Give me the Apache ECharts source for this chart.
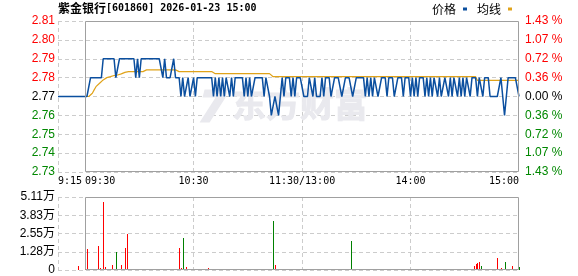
<!DOCTYPE html>
<html><head><meta charset="utf-8">
<script src="https://cdn.jsdelivr.net/npm/echarts@6/dist/echarts.min.js"></script>
<style>html,body{margin:0;padding:0;background:#fff;}#c{width:578px;height:276px;}</style>
</head><body><div id="c"></div>
<script>
// ---------- data ----------
const titleName = '紫金银行';
const titleRest = '[601860] 2026-01-23 15:00';
const legendNames = ['价格', '均线'];
const watermarkText = '东方财富';

const prevClose = 2.77;
const priceMin = 2.73, priceMax = 2.81, priceStep = 0.01;
// right-axis labels, bottom to top
const pctLabels = ['1.43 %','1.07 %','0.72 %','0.36 %','0.00 %','0.36 %','0.72 %','1.07 %','1.43 %'];
const volMax = 51100, volStep = 12775;
const volLabels = ['0','1.28万','2.55万','3.83万','5.11万'];

// x tick positions (category index) and texts
const xTickIdx = [0, 15, 75, 135, 195, 255];
const xTickText = ['9:15','09:30','10:30','11:30/13:00','14:00','15:00'];

// pre-market 9:15-9:29
const prePrice = [2.77,2.77,2.77,2.77,2.77,2.77,2.77,2.77,2.77,2.77,2.77,2.77,2.77,2.77,2.77];
const preAvg   = [null,null,null,null,null,null,null,null,null,null,null,null,null,null,null];
const preVol   = [0,0,0,0,0,0,0,0,0,0,0,3000,0,0,0];

// trading minutes 09:30 .. 11:30, 13:01 .. 15:00 (241 points)
const tradePrice = [
2.77,2.77,2.77,2.78,2.78,2.78,2.78,2.78,2.78,2.78,
2.79,2.79,2.79,2.79,2.79,2.79,2.79,2.78,2.78,2.79,
2.79,2.79,2.79,2.79,2.79,2.79,2.79,2.79,2.78,2.79,
2.78,2.79,2.79,2.79,2.79,2.79,2.79,2.79,2.79,2.79,
2.79,2.79,2.79,2.78,2.79,2.78,2.78,2.78,2.78,2.79,
2.78,2.78,2.78,2.77,2.78,2.77,2.77,2.78,2.77,2.77,
2.78,2.77,2.78,2.78,2.78,2.78,2.78,2.78,2.78,2.78,
2.78,2.77,2.78,2.77,2.78,2.77,2.78,2.77,2.78,2.78,
2.77,2.78,2.77,2.78,2.78,2.78,2.78,2.78,2.77,2.78,
2.77,2.78,2.77,2.77,2.78,2.78,2.78,2.78,2.78,2.77,
2.78,2.78,2.77,2.76,2.76,2.77,2.77,2.76,2.77,2.78,
2.77,2.78,2.78,2.78,2.77,2.78,2.77,2.78,2.78,2.78,
2.78,2.77,2.77,2.77,2.78,2.78,2.77,2.78,2.77,2.77,
2.77,2.78,2.77,2.78,2.78,2.78,2.77,2.77,2.78,2.78,
2.78,2.78,2.77,2.77,2.78,2.78,2.78,2.78,2.77,2.77,
2.78,2.78,2.78,2.78,2.78,2.77,2.78,2.77,2.78,2.77,
2.78,2.78,2.77,2.77,2.78,2.78,2.78,2.77,2.78,2.78,
2.78,2.77,2.77,2.78,2.78,2.78,2.77,2.78,2.78,2.78,
2.77,2.78,2.77,2.78,2.77,2.78,2.78,2.78,2.77,2.78,
2.77,2.78,2.77,2.78,2.78,2.77,2.78,2.77,2.77,2.78,
2.78,2.77,2.78,2.77,2.78,2.78,2.77,2.78,2.77,2.78,
2.77,2.78,2.78,2.77,2.78,2.78,2.78,2.77,2.78,2.78,
2.77,2.78,2.78,2.78,2.77,2.77,2.77,2.77,2.77,2.77,
2.78,2.77,2.76,2.77,2.78,2.78,2.78,2.78,2.78,2.78,
2.77
];
const tradeAvg = [
2.7700,2.7700,2.7700,2.7700,2.7717,2.7735,2.7752,2.7752,2.7770,2.7780,
2.7788,2.7795,2.7800,2.7803,2.7805,2.7808,2.7811,2.7811,2.7814,2.7816,
2.7820,2.7823,2.7828,2.7832,2.7832,2.7832,2.7832,2.7832,2.7832,2.7832,
2.7832,2.7832,2.7832,2.7832,2.7841,2.7841,2.7841,2.7841,2.7841,2.7841,
2.7841,2.7841,2.7841,2.7841,2.7841,2.7841,2.7841,2.7841,2.7841,2.7841,
2.7841,2.7832,2.7832,2.7832,2.7832,2.7832,2.7832,2.7832,2.7832,2.7832,
2.7832,2.7832,2.7832,2.7832,2.7832,2.7832,2.7832,2.7832,2.7832,2.7832,
2.7832,2.7832,2.7821,2.7821,2.7821,2.7821,2.7821,2.7821,2.7821,2.7821,
2.7821,2.7821,2.7821,2.7821,2.7821,2.7821,2.7821,2.7821,2.7821,2.7821,
2.7821,2.7821,2.7821,2.7821,2.7821,2.7821,2.7821,2.7821,2.7821,2.7821,
2.7821,2.7821,2.7821,2.7821,2.7805,2.7805,2.7805,2.7805,2.7805,2.7805,
2.7805,2.7805,2.7805,2.7805,2.7805,2.7805,2.7805,2.7805,2.7805,2.7805,
2.7805,2.7805,2.7805,2.7805,2.7805,2.7805,2.7805,2.7805,2.7805,2.7805,
2.7805,2.7805,2.7805,2.7805,2.7805,2.7805,2.7805,2.7805,2.7805,2.7805,
2.7805,2.7805,2.7805,2.7805,2.7805,2.7805,2.7805,2.7805,2.7805,2.7805,
2.7805,2.7805,2.7805,2.7805,2.7805,2.7805,2.7805,2.7805,2.7805,2.7805,
2.7805,2.7805,2.7805,2.7805,2.7805,2.7805,2.7805,2.7805,2.7805,2.7805,
2.7805,2.7805,2.7805,2.7805,2.7805,2.7805,2.7805,2.7805,2.7805,2.7805,
2.7805,2.7805,2.7805,2.7805,2.7805,2.7805,2.7805,2.7805,2.7805,2.7805,
2.7805,2.7805,2.7805,2.7805,2.7805,2.7805,2.7805,2.7805,2.7805,2.7805,
2.7805,2.7805,2.7805,2.7805,2.7805,2.7805,2.7805,2.7805,2.7805,2.7805,
2.7805,2.7805,2.7805,2.7805,2.7805,2.7805,2.7805,2.7785,2.7785,2.7785,
2.7785,2.7785,2.7785,2.7785,2.7785,2.7785,2.7785,2.7785,2.7785,2.7785,
2.7785,2.7785,2.7785,2.7785,2.7785,2.7785,2.7785,2.7785,2.7785,2.7785,
2.7785
];
const tradeVol = [
600,14600,700,900,1000,600,800,16700,1200,700,
47400,2000,800,600,900,3500,700,12300,800,600,
3500,900,15600,25100,800,700,600,900,500,800,
700,600,800,900,700,500,800,600,700,900,
600,800,700,500,900,700,600,800,700,600,
800,900,15500,1500,22300,900,2300,700,600,800,
500,700,900,600,800,700,600,500,1200,800,
700,600,900,700,500,800,600,700,900,600,
800,700,500,600,900,700,800,600,700,500,
800,900,600,700,800,500,700,600,900,700,
800,1000,700,800,34200,3500,700,600,800,900,
600,1000,700,500,800,600,900,700,600,800,
700,500,600,800,900,700,600,800,500,700,
900,600,800,700,500,600,900,700,800,600,
700,800,600,900,700,500,800,20200,600,700,
900,800,600,700,500,800,900,600,700,800,
600,500,700,900,800,600,700,500,800,600,
900,700,600,800,700,500,900,600,800,700,
600,800,700,900,500,600,700,800,900,600,
700,500,800,600,900,700,600,800,700,500,
900,600,700,800,600,700,500,900,800,600,
700,800,600,900,700,2800,4200,4600,5800,3000,
700,600,800,900,700,600,500,800,8100,700,
1500,800,5600,700,600,900,3000,700,600,800,
2300
];
// minutes (trading index) whose volume bar is green
const volGreenIdx = [17,30,45,54,62,85,96,104,118,130,147,160,175,190,200,210,219,225,232,240];

// ---------- build ----------
function pad(n){ return (n < 10 ? '0' : '') + n; }
const categories = [];
for (let m = 15; m < 30; m++) categories.push('9:' + pad(m));
for (let t = 9*60+30; t <= 11*60+30; t++) categories.push(pad(Math.floor(t/60)) + ':' + pad(t%60));
for (let t = 13*60+1; t <= 15*60; t++) categories.push(pad(Math.floor(t/60)) + ':' + pad(t%60));

const priceSeries = prePrice.concat(tradePrice);
const avgSeries = preAvg.concat(tradeAvg);
const RED = '#ff0000', GREEN = '#008800', BLACK = '#000000';
const VRED = '#ff0000', VGREEN = '#008000';
const volColors = preVol.map(() => VRED)
  .concat(tradeVol.map((v, i) => volGreenIdx.indexOf(i) >= 0 ? VGREEN : VRED));
const volSeries = preVol.concat(tradeVol).map((v, i) => [i, v]);

const MONO = 'DejaVu Sans Mono';
const SANS = 'Liberation Sans, Noto Sans CJK SC';
const dash = { color: '#cccccc', width: 1, type: [4, 3] };

function splitInterval(idx) { return idx === 0 || idx === 75 || idx === 135 || idx === 195; }

const chart = echarts.init(document.getElementById('c'), null, { renderer: 'canvas' });
const option = {
  animation: false,
  backgroundColor: '#ffffff',
  title: {
    text: '{a|' + titleName + '}{b|' + titleRest + '}',
    left: 58, top: 2, padding: 0,
    textStyle: { rich: {
      a: { fontFamily: 'Noto Sans CJK SC', fontSize: 12, color: '#000' },
      b: { fontFamily: MONO, fontSize: 10, color: '#000' }
    } }
  },
  legend: {
    data: legendNames, right: 66, top: 3, padding: 0,
    align: 'right', icon: 'rect', itemWidth: 4, itemHeight: 3, itemGap: 10,
    textStyle: { fontFamily: 'Noto Sans CJK SC', fontSize: 12, color: '#000', padding: [0, 2, 0, 0] },
    selectedMode: false
  },
  grid: [
    { left: 58, right: 59, top: 21, height: 151, outerBoundsMode: 'none', containLabel: false },
    { left: 58, right: 59, top: 197, height: 73, outerBoundsMode: 'none', containLabel: false }
  ],
  xAxis: [
    { type: 'category', gridIndex: 0, data: categories, boundaryGap: false,
      axisLine: { show: false }, axisTick: { show: false },
      splitLine: { show: true, interval: splitInterval, lineStyle: dash },
      axisLabel: {
        show: true, margin: 4, interval: function (idx) { return xTickIdx.indexOf(idx) >= 0; },
        formatter: function (v, idx) {
          const k = xTickIdx.indexOf(idx);
          if (k < 0) return '';
          if (k === 0) return '{l4|' + xTickText[k] + '}';
          if (k === 1) return '{l5|' + xTickText[k] + '}';
          if (k === xTickIdx.length - 1) return '{r5|' + xTickText[k] + '}';
          return '{c|' + xTickText[k] + '}';
        },
        rich: {
          l4: { fontFamily: MONO, fontSize: 10, color: '#000', padding: [0, 0, 0, 24] },
          l5: { fontFamily: MONO, fontSize: 10, color: '#000', padding: [0, 0, 0, 30] },
          r5: { fontFamily: MONO, fontSize: 10, color: '#000', padding: [0, 30, 0, 0] },
          c:  { fontFamily: MONO, fontSize: 10, color: '#000' }
        }
      } },
    { type: 'category', gridIndex: 1, data: categories, boundaryGap: false,
      axisLine: { show: false }, axisTick: { show: false }, axisLabel: { show: false },
      splitLine: { show: true, interval: splitInterval, lineStyle: dash } }
  ],
  yAxis: [
    { type: 'value', gridIndex: 0, min: priceMin, max: priceMax, interval: priceStep, position: 'left',
      axisLine: { show: false }, axisTick: { show: false },
      splitLine: { show: true, lineStyle: dash },
      axisLabel: { margin: 3, fontFamily: SANS, fontSize: 12,
        formatter: function (v) { return Number(v).toFixed(2); },
        color: function (v) { const n = Number(v); return n > prevClose + 0.0005 ? RED : (n < prevClose - 0.0005 ? GREEN : BLACK); } } },
    { type: 'value', gridIndex: 0, min: priceMin, max: priceMax, interval: priceStep, position: 'right',
      axisLine: { show: false }, axisTick: { show: false }, splitLine: { show: false },
      axisLabel: { margin: 6, fontFamily: SANS, fontSize: 12,
        formatter: function (v, i) { return pctLabels[i]; },
        color: function (v) { const n = Number(v); return n > prevClose + 0.0005 ? RED : (n < prevClose - 0.0005 ? GREEN : BLACK); } } },
    { type: 'value', gridIndex: 1, min: 0, max: volMax, interval: volStep, position: 'left',
      axisLine: { show: false }, axisTick: { show: false },
      splitLine: { show: true, lineStyle: dash },
      axisLabel: { margin: 3, fontFamily: SANS, fontSize: 12, color: '#000',
        formatter: function (v, i) { return volLabels[i]; } } }
  ],
  series: [
    { name: legendNames[0], type: 'line', xAxisIndex: 0, yAxisIndex: 0, data: priceSeries,
      showSymbol: false, symbol: 'none', color: '#0b4f9f',
      lineStyle: { color: '#0b4f9f', width: 1.5 }, z: 4, silent: true },
    { name: legendNames[1], type: 'line', xAxisIndex: 0, yAxisIndex: 0, data: avgSeries,
      showSymbol: false, symbol: 'none', color: '#e0a31a', connectNulls: false,
      lineStyle: { color: '#e0a31a', width: 1.2 }, z: 3, silent: true },
    { name: 'vol', type: 'custom', xAxisIndex: 1, yAxisIndex: 2, data: volSeries, silent: true, z: 3,
      itemStyle: { color: VRED, borderWidth: 0 },
      renderItem: function (params, api) {
        const i = params.dataIndex, v = api.value(1);
        if (!v) return null;
        const top = api.coord([i, v]);
        const base = api.coord([i, 0]);
        const x = Math.round(top[0]);
        const y = Math.round(top[1]);
        return { type: 'rect', shape: { x: x, y: y, width: 1, height: Math.max(1, Math.round(base[1]) - y) },
                 style: { fill: volColors[i], stroke: null, lineWidth: 0 } };
      } }
  ]
};
chart.setOption(option);

// solid frames around the trading session and watermark, positioned through the axes
function frame(gridIdx, yIdx, yTop, yBot) {
  const p0 = chart.convertToPixel({ xAxisIndex: gridIdx, yAxisIndex: yIdx }, [15, yTop]);
  const p1 = chart.convertToPixel({ xAxisIndex: gridIdx, yAxisIndex: yIdx }, [255, yBot]);
  const x0 = Math.round(p0[0]) + 0.5, y0 = Math.round(p0[1]) + 0.5;
  const x1 = Math.round(p1[0]) - 0.5, y1 = Math.round(p1[1]) - 0.5;
  return { type: 'rect', silent: true, z: 10,
    shape: { x: x0, y: y0, width: x1 - x0, height: y1 - y0 },
    style: { fill: 'none', stroke: '#a0a0a0', lineWidth: 1 } };
}
const wm = chart.convertToPixel({ xAxisIndex: 0, yAxisIndex: 0 }, [96, 2.7705]);
const WMC = '#e9e9ee';
chart.setOption({
  graphic: [
    frame(0, 0, priceMax, priceMin),
    frame(1, 2, volMax, 0),
    { type: 'polygon', silent: true, z: 0,
      shape: { points: [[wm[0]-27, wm[1]-6], [wm[0]-4, wm[1]-6], [wm[0]-6, wm[1]+2], [wm[0]-22, wm[1]+27], [wm[0]-32, wm[1]+27], [wm[0]-16, wm[1]+2], [wm[0]-29, wm[1]+2]] },
      style: { fill: WMC } },
    { type: 'text', silent: true, z: 0, left: wm[0], top: wm[1] - 9,
      style: { text: watermarkText, fontFamily: 'Noto Sans CJK SC', fontWeight: 'bold', fontSize: 34,
               fill: WMC, stroke: WMC, lineWidth: 1 } }
  ]
});
</script>
</body></html>
